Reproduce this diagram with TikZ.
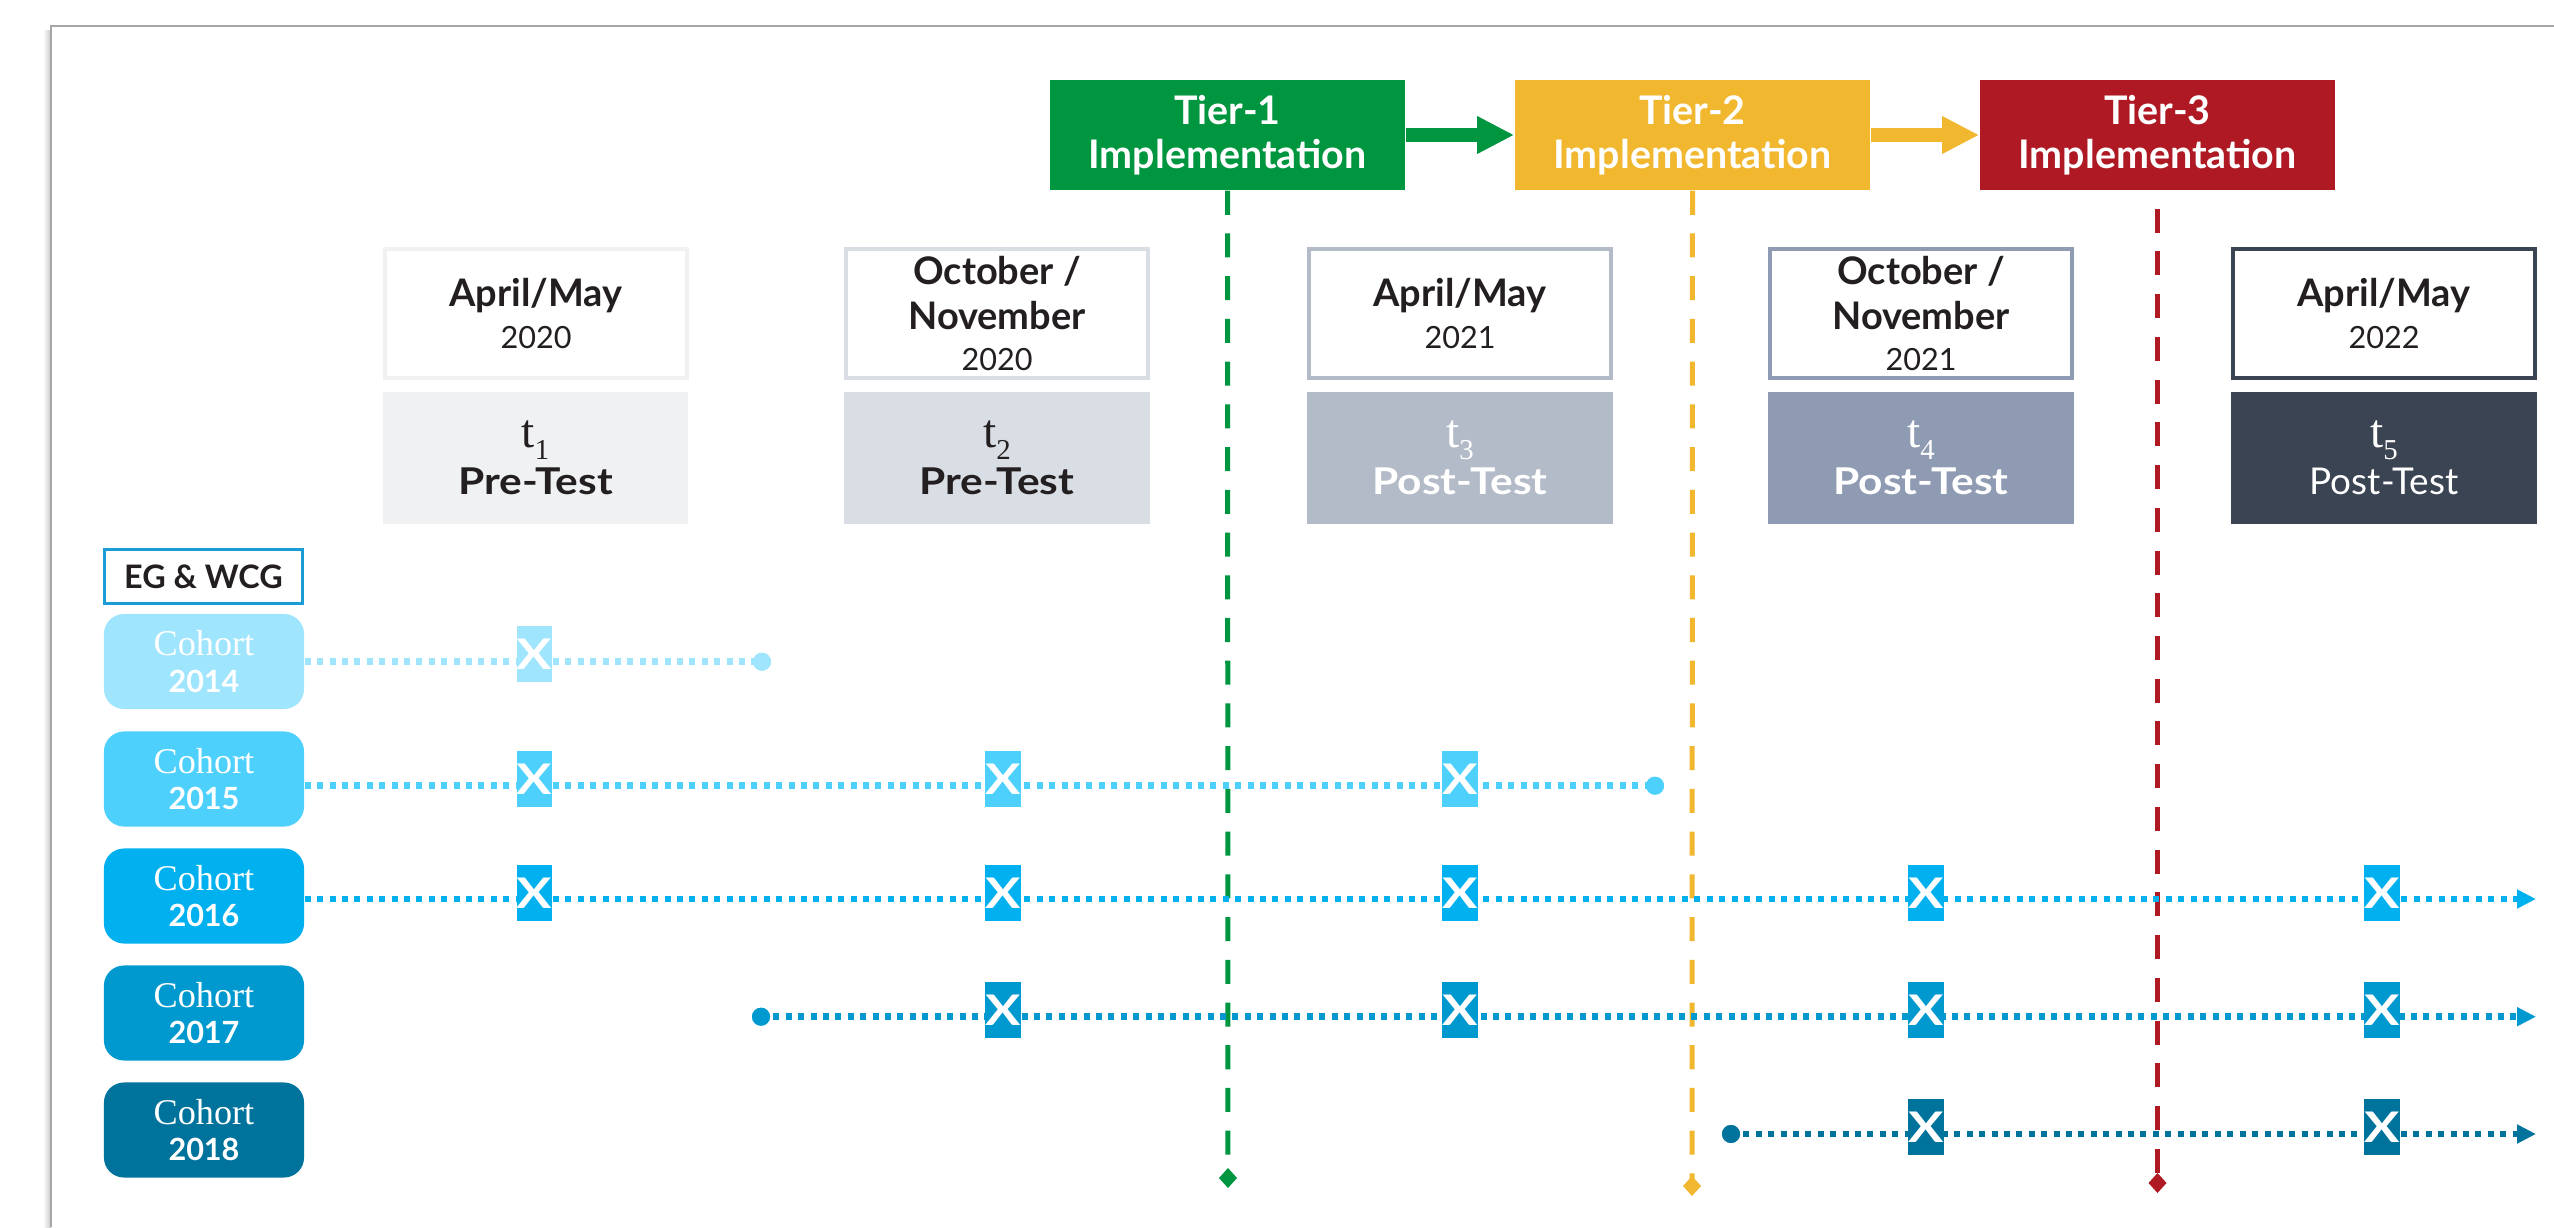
\documentclass[tikz,border=0pt]{standalone}
\usepackage{fontspec}
\setmainfont{Lato}
\newfontfamily\seriffont{Liberation Serif}
\usetikzlibrary{arrows.meta}
\definecolor{txt}{HTML}{231F20}
\definecolor{tierA}{HTML}{00953F}
\definecolor{tierB}{HTML}{F0B72F}
\definecolor{tierC}{HTML}{AF1923}
\definecolor{colA}{HTML}{F0F1F3}
\definecolor{colB}{HTML}{D9DDE4}
\definecolor{colC}{HTML}{B4BBC8}
\definecolor{colD}{HTML}{8F9BB2}
\definecolor{colE}{HTML}{3B4453}
\definecolor{coA}{HTML}{9EE5FD}
\definecolor{coB}{HTML}{4DD0FC}
\definecolor{coC}{HTML}{00B0EF}
\definecolor{coD}{HTML}{0099CF}
\definecolor{coE}{HTML}{00739D}
\definecolor{egblue}{HTML}{1A9CD4}
\definecolor{framegray}{HTML}{A6A6A6}
\newcommand{\tsub}[1]{{\seriffont\fontsize{13.5}{13.4}\selectfont t\raisebox{-3.3pt}{\fontsize{8.2}{8}\selectfont #1}}}
\newcommand{\bigX}{\scalebox{1.25}[1]{X}}
\newcommand{\wide}[1]{\scalebox{1.15}[1]{#1}}
\begin{document}
\begin{tikzpicture}[x=0.01cm,y=-0.01cm,
  tierbox/.style={fill=#1, text=white, minimum width=3.55cm, minimum height=1.10cm, inner sep=0pt, align=center, font=\bfseries\fontsize{11.2}{12.5}\selectfont},
  datebox/.style={draw=#1, line width=0.04cm, fill=white, minimum width=3.02cm, minimum height=1.29cm, inner sep=0pt, align=center, text=txt, font=\fontsize{10.8}{12.8}\selectfont},
  testbox/.style={fill=#1, minimum width=3.05cm, minimum height=1.32cm, inner sep=0pt, align=center, font=\fontsize{10.5}{13.4}\selectfont},
  cohort/.style={fill=#1, rounded corners=0.2cm, minimum width=2.0cm, minimum height=0.95cm, inner sep=0pt, align=center, text=white, font=\fontsize{8.7}{10.4}\selectfont},
  xmark/.style={fill=#1, minimum width=0.35cm, minimum height=0.56cm, inner sep=0pt, text=white, font=\bfseries\fontsize{12}{12}\selectfont},
  dotline/.style={draw=#1, line width=0.065cm, dash pattern=on 0.06cm off 0.064cm},
  dotarrow/.style={dotline=#1, -{Triangle[length=0.19cm,width=0.18cm]}},
  enddot/.style={circle, fill=#1, minimum size=0.18cm, inner sep=0pt},
  tierline/.style={draw=#1, line width=0.05cm, dash pattern=on 0.24cm off 0.187cm, -{Diamond[length=0.2cm,width=0.18cm]}},
  tierarrow/.style={draw=#1, line width=0.13cm, -{Triangle[length=0.37cm,width=0.35cm]}},
  ]
\useasboundingbox (0,0) rectangle (2554,1227);
% page frame with shadow
\shade[left color=white, right color=black!22] (43,30) rectangle (51,1227);
\draw[framegray, line width=0.02cm] (51,1227) -- (51,26) -- (2554,26);

% tier boxes
\node[tierbox=tierA] (tier1) at (1227.5,135) {Tier-1\\Implementation};
\node[tierbox=tierB] (tier2) at (1692.5,135) {Tier-2\\Implementation};
\node[tierbox=tierC] (tier3) at (2157.5,135) {Tier-3\\Implementation};
\draw[tierarrow=tierA] (tier1.east) -- (tier2.west);
\draw[tierarrow=tierB] (tier2.east) -- (tier3.west);

% tier vertical lines
\coordinate (g1) at (1228,1188);
\coordinate (g2) at (1692,1196);
\coordinate (g3) at (2157.5,1193);
\draw[tierline=tierA] (tier1.south) -- (g1);
\draw[tierline=tierB] (tier2.south) -- (g2);
\draw[tierline=tierC] ([yshift=-0.18cm]tier3.south) -- (g3);

% date boxes
\node[datebox=colA] (d1) at (536,313.5) {{\bfseries April/May}\\[-1.1pt]{\fontsize{8.7}{10}\selectfont 2020}};
\node[datebox=colB] (d2) at (997,313.5) {{\bfseries October /}\\{\bfseries November}\\[-1.4pt]{\fontsize{8.7}{10}\selectfont 2020}};
\node[datebox=colC] (d3) at (1460,313.5) {{\bfseries April/May}\\[-1.1pt]{\fontsize{8.7}{10}\selectfont 2021}};
\node[datebox=colD] (d4) at (1921,313.5) {{\bfseries October /}\\{\bfseries November}\\[-1.4pt]{\fontsize{8.7}{10}\selectfont 2021}};
\node[datebox=colE] (d5) at (2384,313.5) {{\bfseries April/May}\\[-1.1pt]{\fontsize{8.7}{10}\selectfont 2022}};

% test boxes
\node[testbox=colA, text=txt] (p1) at (535.5,458) {\tsub{1}\\{\bfseries\wide{Pre-Test}}};
\node[testbox=colB, text=txt] (p2) at (997,458) {\tsub{2}\\{\bfseries\wide{Pre-Test}}};
\node[testbox=colC, text=white] (p3) at (1460,458) {\tsub{3}\\{\bfseries\wide{Post-Test}}};
\node[testbox=colD, text=white] (p4) at (1921,458) {\tsub{4}\\{\bfseries\wide{Post-Test}}};
\node[testbox=colE, text=white] (p5) at (2384,458) {\tsub{5}\\Post-Test};

% group label
\node[draw=egblue, line width=0.03cm, minimum width=1.98cm, minimum height=0.54cm, inner sep=0pt, text=txt, font=\bfseries\fontsize{9.2}{10}\selectfont] (eg) at (203.5,576.5) {EG \& WCG};

% cohorts
\node[cohort=coA] (c14) at (204,661.5) {{\seriffont\fontsize{10.3}{10.4}\selectfont Cohort}\\{\bfseries 2014}};
\node[cohort=coB] (c15) at (204,779) {{\seriffont\fontsize{10.3}{10.4}\selectfont Cohort}\\{\bfseries 2015}};
\node[cohort=coC] (c16) at (204,896) {{\seriffont\fontsize{10.3}{10.4}\selectfont Cohort}\\{\bfseries 2016}};
\node[cohort=coD] (c17) at (204,1013) {{\seriffont\fontsize{10.3}{10.4}\selectfont Cohort}\\{\bfseries 2017}};
\node[cohort=coE] (c18) at (204,1130) {{\seriffont\fontsize{10.3}{10.4}\selectfont Cohort}\\{\bfseries 2018}};

% line ends
\node[enddot=coA] (e14) at (762,661.7) {};
\node[enddot=coB] (e15) at (1655,785.7) {};
\coordinate (a16) at (2536,899);
\node[enddot=coD] (s17) at (761,1016.7) {};
\coordinate (a17) at (2536,1016.7);
\node[enddot=coE] (s18) at (1731,1134) {};
\coordinate (a18) at (2536,1134);

\draw[dotline=coA] (c14.east |- e14) -- (e14.center);
\draw[dotline=coB] (c15.east |- e15) -- (e15.center);
\draw[dotarrow=coC] (c16.east |- a16) -- (a16);
\draw[dotarrow=coD] (s17.center) -- (a17);
\draw[dotarrow=coE] (s18.center) -- (a18);
\node[enddot=coA] at (e14) {};
\node[enddot=coB] at (e15) {};
\node[enddot=coD] at (s17) {};
\node[enddot=coE] at (s18) {};

% measurement markers
\node[xmark=coA] (x14a) at (534.5,654) {\bigX};
\node[xmark=coB] (x15a) at (534.5,779) {\bigX};
\node[xmark=coB] (x15b) at (1003,779) {\bigX};
\node[xmark=coB] (x15c) at (1460,779) {\bigX};
\node[xmark=coC] (x16a) at (534.5,893) {\bigX};
\node[xmark=coC] (x16b) at (1003,893) {\bigX};
\node[xmark=coC] (x16c) at (1460,893) {\bigX};
\node[xmark=coC] (x16d) at (1926,893) {\bigX};
\node[xmark=coC] (x16e) at (2382,893) {\bigX};
\node[xmark=coD] (x17b) at (1003,1010) {\bigX};
\node[xmark=coD] (x17c) at (1460,1010) {\bigX};
\node[xmark=coD] (x17d) at (1926,1010) {\bigX};
\node[xmark=coD] (x17e) at (2382,1010) {\bigX};
\node[xmark=coE] (x18d) at (1926,1127) {\bigX};
\node[xmark=coE] (x18e) at (2382,1127) {\bigX};
\end{tikzpicture}
\end{document}
